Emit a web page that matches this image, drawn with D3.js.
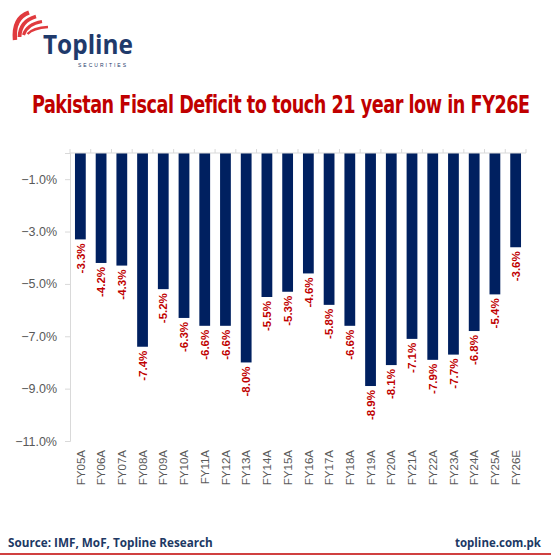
<!DOCTYPE html>
<html>
<head>
<meta charset="utf-8">
<script src="https://cdn.jsdelivr.net/npm/d3@7"></script>
<style>
  body { margin: 0; background: #fff; }
  svg { display: block; }
</style>
</head>
<body>
<div id="chart"></div>
<script>
// data
const years = ["FY05A", "FY06A", "FY07A", "FY08A", "FY09A", "FY10A", "FY11A", "FY12A",
    "FY13A", "FY14A", "FY15A", "FY16A", "FY17A", "FY18A", "FY19A", "FY20A",
    "FY21A", "FY22A", "FY23A", "FY24A", "FY25A", "FY26E"];
const deficit = [-3.3, -4.2, -4.3, -7.4, -5.2, -6.3, -6.6, -6.6, -8.0, -5.5, -5.3, -4.6,
    -5.8, -6.6, -8.9, -8.1, -7.1, -7.9, -7.7, -6.8, -5.4, -3.6];
const yTicks = [-1, -3, -5, -7, -9, -11];

const width = 551, height = 555;
const margin = {top: 153, left: 70, right: 25, bottom: 114};

const svg = d3.select("#chart").append("svg")
    .attr("width", width)
    .attr("height", height);

// squeeze a text horizontally so it spans exactly w pixels
function fitWidth(sel, x0, y0, w, anchorRight) {
    const natural = sel.node().getComputedTextLength();
    const k = w / natural;
    const tx = anchorRight ? x0 - w : x0;
    sel.attr("x", 0).attr("y", 0)
        .attr("transform", `translate(${tx},${y0}) scale(${k},1)`);
}

// logo
const logo = svg.append("g");
const swoosh = [
    {d: "M15,40 Q13,18 29,12.5", w: 4.4},
    {d: "M19.5,37 Q20,21 36,16.5", w: 3.8},
    {d: "M23.5,35 Q27,24 42,21.5", w: 3.1},
    {d: "M27.5,34 Q33,28 48,27", w: 2.4}
];
logo.selectAll("path")
    .data(swoosh)
    .join("path")
    .attr("d", d => d.d)
    .attr("fill", "none")
    .attr("stroke", "#e03a3e")
    .attr("stroke-width", d => d.w);
const brand = logo.append("text")
    .style("font", "bold 27px 'Open Sans', 'Liberation Sans', sans-serif")
    .attr("fill", "#1f3a6b")
    .text("Topline");
fitWidth(brand, 43, 54, 90);
logo.append("text")
    .attr("x", 78)
    .attr("y", 66.5)
    .attr("textLength", 48)
    .attr("lengthAdjust", "spacing")
    .style("font", "5px 'Liberation Sans', sans-serif")
    .attr("fill", "#1f3a6b")
    .text("SECURITIES");

// title
const title = svg.append("text")
    .style("font", "bold 25px 'Liberation Sans Narrow', 'DejaVu Sans Condensed', 'Liberation Sans', sans-serif")
    .style("letter-spacing", "-0.6px")
    .attr("fill", "#c00000")
    .text("Pakistan Fiscal Deficit to touch 21 year low in FY26E");
fitWidth(title, 32, 113, 498);

// scales
const x = d3.scaleBand()
    .domain(years)
    .range([margin.left, width - margin.right])
    .paddingInner(0.48)
    .paddingOuter(0.24);

const y = d3.scaleLinear()
    .domain([0, -11])
    .range([margin.top, height - margin.bottom]);

// y axis
const yAxis = svg.append("g")
    .attr("transform", `translate(${margin.left},0)`)
    .call(d3.axisLeft(y)
        .tickValues(yTicks)
        .tickSize(5)
        .tickPadding(8)
        .tickFormat(d => d3.format(".1f")(d) + "%"));
yAxis.select(".domain").attr("stroke", "#d9d9d9");
yAxis.selectAll(".tick line").attr("stroke", "#d9d9d9");
yAxis.selectAll(".tick text")
    .attr("fill", "#595959")
    .style("font", "12.5px 'Liberation Sans', sans-serif");

// bars
svg.append("g")
    .selectAll("rect")
    .data(deficit)
    .join("rect")
    .attr("x", (d, i) => x(years[i]))
    .attr("y", y(0))
    .attr("width", x.bandwidth())
    .attr("height", d => y(d) - y(0))
    .attr("fill", "#002060");

// top category axis at zero (ticks between bars)
const xLine = svg.append("g");
xLine.append("line")
    .attr("x1", margin.left)
    .attr("x2", width - margin.right)
    .attr("y1", y(0))
    .attr("y2", y(0))
    .attr("stroke", "#d9d9d9");
const step = x.step();
const first = x(years[0]) - x.paddingInner() * step / 2;
xLine.selectAll(".sep")
    .data(d3.range(years.length + 1))
    .join("line")
    .attr("class", "sep")
    .attr("x1", i => first + i * step)
    .attr("x2", i => first + i * step)
    .attr("y1", y(0))
    .attr("y2", y(0) - 4)
    .attr("stroke", "#d9d9d9");

// value labels
svg.append("g")
    .selectAll("text")
    .data(deficit)
    .join("text")
    .attr("transform", (d, i) => `translate(${x(years[i]) + x.bandwidth() / 2},${y(d) + 4}) rotate(-90)`)
    .attr("text-anchor", "end")
    .attr("dy", "0.36em")
    .attr("fill", "#c00000")
    .style("font", "bold 11.5px 'Liberation Sans', sans-serif")
    .text(d => d.toFixed(1) + "%");

// category labels
svg.append("g")
    .selectAll("text")
    .data(years)
    .join("text")
    .attr("transform", d => `translate(${x(d) + x.bandwidth() / 2},450) rotate(-90)`)
    .attr("text-anchor", "end")
    .attr("dy", "0.36em")
    .attr("fill", "#595959")
    .style("font", "11.5px 'Liberation Sans', sans-serif")
    .text(d => d);

// footer
const source = svg.append("text")
    .style("font", "bold 12.5px 'Open Sans', 'Liberation Sans', sans-serif")
    .attr("fill", "#203864")
    .text("Source: IMF, MoF, Topline Research");
fitWidth(source, 8, 547, 205);
const site = svg.append("text")
    .style("font", "bold 12.5px 'Open Sans', 'Liberation Sans', sans-serif")
    .attr("fill", "#203864")
    .text("topline.com.pk");
fitWidth(site, 541, 547, 86, true);
svg.append("line")
    .attr("x1", 0)
    .attr("x2", width)
    .attr("y1", 554)
    .attr("y2", 554)
    .attr("stroke", "#c00000")
    .attr("stroke-width", 1.5);
</script>
</body>
</html>
